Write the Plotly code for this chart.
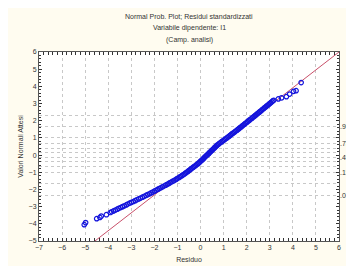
import plotly.graph_objects as go
from statistics import NormalDist

# Residuals (x) and expected normal values (y)
residuo = [
    -5.04, -4.98, -4.50, -4.36, -4.30, -4.08, -3.91,
    -3.85, -3.77, -3.69, -3.61, -3.54, -3.46, -3.38, -3.30, -3.22, -3.15,
    -3.07, -2.99, -2.91, -2.83, -2.76, -2.68, -2.60, -2.52, -2.44, -2.36,
    -2.29, -2.21,
    -2.14, -2.07, -2.00, -1.93, -1.86, -1.79, -1.72, -1.65, -1.58, -1.51,
    -1.44, -1.375, -1.31, -1.24, -1.17, -1.11, -1.05, -0.99,
    -0.93, -0.87, -0.81, -0.755, -0.70, -0.65, -0.60, -0.55, -0.50, -0.45,
    -0.41, -0.36, -0.31, -0.26, -0.21, -0.16, -0.11,
    -0.07, -0.03, 0.01, 0.05, 0.09, 0.13, 0.16, 0.20, 0.24, 0.28,
    0.32, 0.36, 0.39, 0.43, 0.47, 0.51, 0.55, 0.59, 0.62, 0.66, 0.70, 0.74,
    0.79, 0.84, 0.89, 0.94, 0.99, 1.04, 1.09, 1.14, 1.19, 1.24,
    1.29, 1.33, 1.38, 1.43, 1.48, 1.53, 1.58,
    1.63, 1.67, 1.72, 1.77, 1.81, 1.86, 1.90, 1.95, 2.00, 2.04,
    2.09, 2.13, 2.18, 2.23, 2.27, 2.32, 2.37, 2.41,
    2.46, 2.50, 2.55, 2.59, 2.64, 2.68, 2.73, 2.77, 2.82, 2.86,
    2.91, 2.95, 3.00, 3.04, 3.09, 3.13, 3.17,
    3.37, 3.51, 3.72, 3.86, 4.03, 4.14, 4.36]
attesi = [
    -4.05, -3.93, -3.70, -3.63, -3.55, -3.47, -3.34,
    -3.30, -3.25, -3.20, -3.15, -3.10, -3.05, -3.00, -2.95, -2.90, -2.85,
    -2.80, -2.75, -2.70, -2.65, -2.60, -2.55, -2.50, -2.45, -2.40, -2.35,
    -2.30, -2.25,
    -2.20, -2.15, -2.10, -2.05, -2.00, -1.95, -1.90, -1.85, -1.80, -1.75,
    -1.70, -1.65, -1.60, -1.55, -1.50, -1.45, -1.40, -1.35,
    -1.30, -1.25, -1.20, -1.15, -1.10, -1.05, -1.00, -0.95, -0.90, -0.85,
    -0.80, -0.75, -0.70, -0.65, -0.60, -0.55, -0.50,
    -0.45, -0.40, -0.35, -0.30, -0.25, -0.20, -0.15, -0.10, -0.05, 0.00,
    0.05, 0.10, 0.15, 0.20, 0.25, 0.30, 0.35, 0.40, 0.45, 0.50, 0.55, 0.60,
    0.65, 0.70, 0.75, 0.80, 0.85, 0.90, 0.95, 1.00, 1.05, 1.10,
    1.15, 1.20, 1.25, 1.30, 1.35, 1.40, 1.45,
    1.50, 1.55, 1.60, 1.65, 1.70, 1.75, 1.80, 1.85, 1.90, 1.95,
    2.00, 2.05, 2.10, 2.15, 2.20, 2.25, 2.30, 2.35,
    2.40, 2.45, 2.50, 2.55, 2.60, 2.65, 2.70, 2.75, 2.80, 2.85,
    2.90, 2.95, 3.00, 3.05, 3.10, 3.15, 3.19,
    3.27, 3.33, 3.40, 3.55, 3.71, 3.75, 4.22]

# Reference line
line_slope = 1.04
line_intercept = -0.24
line_x = [-7, 6]

# Probability grid levels (right axis)
prob_levels = [0.01, 0.05, 0.15, 0.25, 0.35, 0.45, 0.55, 0.65, 0.75, 0.85, 0.95, 0.99]
prob_labels = [".01", "", ".15", "", "", ".45", "", "", ".75", "", ".95", ""]

x_ticks = list(range(-7, 7))
y_ticks = list(range(-5, 7))

title_lines = ["Normal Prob. Plot; Residui standardizzati",
               "Variabile dipendente: I1",
               "(Camp. analisi)"]

nd = NormalDist()
prob_vals = [nd.inv_cdf(p) for p in prob_levels]

font_family = "Liberation Sans, Arial, sans-serif"
txt = "#333333"

fig = go.Figure()
fig.add_trace(go.Scatter(
    x=line_x, y=[line_slope * v + line_intercept for v in line_x],
    mode="lines", line=dict(color="#c8506a", width=1), showlegend=False,
    hoverinfo="skip"))
fig.add_trace(go.Scatter(
    x=residuo, y=attesi, mode="markers",
    marker=dict(symbol="circle-open", size=4.5, color="#1414dc", line=dict(width=1.2)),
    showlegend=False))
fig.add_trace(go.Scatter(x=[0], y=[0], yaxis="y2", mode="markers",
                         marker=dict(opacity=0), showlegend=False, hoverinfo="skip"))

# title lines as annotations (plot area spans 192 px vertically)
title_y = [1.1875, 1.128, 1.066]
for t, yy in zip(title_lines, title_y):
    fig.add_annotation(text=t, x=0.5, xref="paper", y=yy, yref="paper",
                       xanchor="center", yanchor="middle", showarrow=False,
                       font=dict(size=7, color=txt))

fig.update_layout(
    width=354, height=266,
    margin=dict(l=27, r=20, t=44, b=30),
    paper_bgcolor="#fffcf0", plot_bgcolor="#ffffff",
    font=dict(family=font_family, size=7, color=txt),
    xaxis=dict(
        range=[-7, 6], tickvals=x_ticks, showgrid=True,
        gridcolor="#c8c8c8", griddash="dot", gridwidth=1,
        zeroline=False, showline=True, linecolor="#555555", linewidth=1, mirror="allticks",
        ticks="inside", ticklen=3, tickcolor="#333333",
        minor=dict(ticks="inside", ticklen=2, dtick=0.2, tickcolor="#333333", showgrid=False),
        title=dict(text="Residuo", font=dict(size=7), standoff=6),
        tickfont=dict(size=7)),
    yaxis=dict(
        range=[-5, 6], tickvals=y_ticks, showgrid=False,
        zeroline=False, showline=True, linecolor="#555555", linewidth=1, mirror="allticks",
        ticks="inside", ticklen=3, tickcolor="#333333",
        minor=dict(ticks="inside", ticklen=2, dtick=0.2, tickcolor="#333333", showgrid=False),
        title=dict(text="Valori Normali Attesi", font=dict(size=7), standoff=4),
        tickfont=dict(size=7)),
    yaxis2=dict(
        range=[-5, 6], overlaying="y", side="right", tickvals=prob_vals,
        ticktext=prob_labels, showgrid=True, gridcolor="#c8c8c8", griddash="dot",
        gridwidth=1, zeroline=False, showline=False, ticks="", tickfont=dict(size=7),
        ticklabeloverflow="allow", layer="below traces"),
)
fig.write_html("out.html")
